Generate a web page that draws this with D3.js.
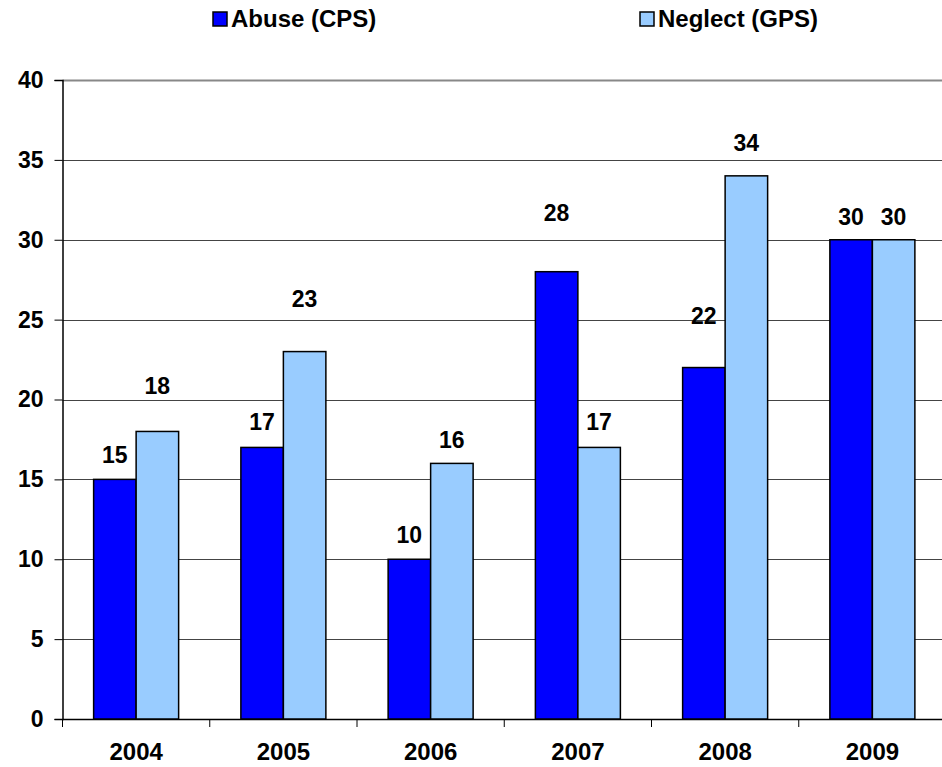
<!DOCTYPE html>
<html>
<head>
<meta charset="utf-8">
<script src="https://cdn.jsdelivr.net/npm/d3@7"></script>
<style>
  body { margin: 0; background: #fff; }
  text { font-family: "Liberation Sans", Arial, sans-serif; font-weight: bold; fill: #000; }
</style>
</head>
<body>
<svg></svg>
<script>
// данные графика
const years = ["2004", "2005", "2006", "2007", "2008", "2009"];
const abuse = [15, 17, 10, 28, 22, 30];
const neglect = [18, 23, 16, 17, 34, 30];
const yTicks = [0, 5, 10, 15, 20, 25, 30, 35, 40];
const seriesNames = ["Abuse (CPS)", "Neglect (GPS)"];

// подъём подписей над столбцами (пиксели), как на исходной картинке
const liftAbuse = [24, 25, 24, 59, 52, 23];
const liftNeglect = [46, 53, 23, 25, 33, 23];

const width = 942;
const height = 767;
const plotLeft = 62.5;
const plotRight = 946;
const plotTop = 80;
const plotBottom = 719;
const barW = 42.5;

let svg = d3.select("svg")
    .attr("width", width)
    .attr("height", height);

let scaleX = d3.scaleBand()
    .domain(years)
    .range([plotLeft, plotRight]);

let scaleY = d3.scaleLinear()
    .domain([0, 40])
    .range([plotBottom, plotTop]);

// линии сетки
svg.append("g")
    .selectAll("line")
    .data(yTicks.filter(d => d > 0))
    .enter()
    .append("line")
    .attr("x1", plotLeft)
    .attr("x2", width)
    .attr("y1", d => Math.round(scaleY(d)) + 0.5)
    .attr("y2", d => Math.round(scaleY(d)) + 0.5)
    .attr("stroke", d => d === 40 ? "#888" : "#444")
    .attr("stroke-width", d => d === 40 ? 2 : 1);

// ось Y
let axisY = d3.axisLeft(scaleY)
    .tickValues(yTicks)
    .tickSize(8)
    .tickPadding(11)
    .tickFormat(d3.format("d"));

let gy = svg.append("g")
    .attr("transform", `translate(${plotLeft}, 0)`)
    .call(axisY);
gy.select(".domain").attr("stroke", "#000").attr("stroke-width", 1.5);
gy.selectAll(".tick line").attr("stroke", "#000");
gy.selectAll("text").style("font-size", "23px").attr("fill", "#000");

// ось X
let axisX = d3.axisBottom(scaleX)
    .tickSize(0)
    .tickPadding(24);

let gx = svg.append("g")
    .attr("transform", `translate(0, ${plotBottom})`)
    .call(axisX);
gx.select(".domain").attr("stroke", "#000").attr("stroke-width", 1.5);
gx.selectAll("text").style("font-size", "24px").attr("fill", "#000");

// засечки между категориями
svg.append("g")
    .selectAll("line")
    .data(years)
    .enter()
    .append("line")
    .attr("x1", d => scaleX(d))
    .attr("x2", d => scaleX(d))
    .attr("y1", plotBottom)
    .attr("y2", plotBottom + 8)
    .attr("stroke", "#000");

function drawBars(values, lifts, offset, color) {
    svg.append("g")
        .selectAll("rect")
        .data(values)
        .enter()
        .append("rect")
        .attr("x", (d, i) => scaleX(years[i]) + scaleX.bandwidth() / 2 + offset)
        .attr("y", d => scaleY(d))
        .attr("width", barW)
        .attr("height", d => plotBottom - scaleY(d))
        .attr("fill", color)
        .attr("stroke", "#000")
        .attr("stroke-width", 1.5);

    svg.append("g")
        .selectAll("text")
        .data(values)
        .enter()
        .append("text")
        .attr("x", (d, i) => scaleX(years[i]) + scaleX.bandwidth() / 2 + offset + barW / 2)
        .attr("y", (d, i) => scaleY(d) - lifts[i])
        .attr("dy", "0.35em")
        .attr("text-anchor", "middle")
        .style("font-size", "23px")
        .text(d => d);
}

drawBars(abuse, liftAbuse, -barW, "#0000ff");
drawBars(neglect, liftNeglect, 0, "#99ccff");

// легенда
const legendX = [213, 640];
const legendColors = ["#0000ff", "#99ccff"];
let legend = svg.append("g")
    .selectAll("g")
    .data(seriesNames)
    .enter()
    .append("g")
    .attr("transform", (d, i) => `translate(${legendX[i]}, 12)`);

legend.append("rect")
    .attr("width", 14)
    .attr("height", 14)
    .attr("fill", (d, i) => legendColors[i])
    .attr("stroke", "#000")
    .attr("stroke-width", 1.5);

legend.append("text")
    .attr("x", 18)
    .attr("y", 15)
    .style("font-size", "24px")
    .text(d => d);
</script>
</body>
</html>
